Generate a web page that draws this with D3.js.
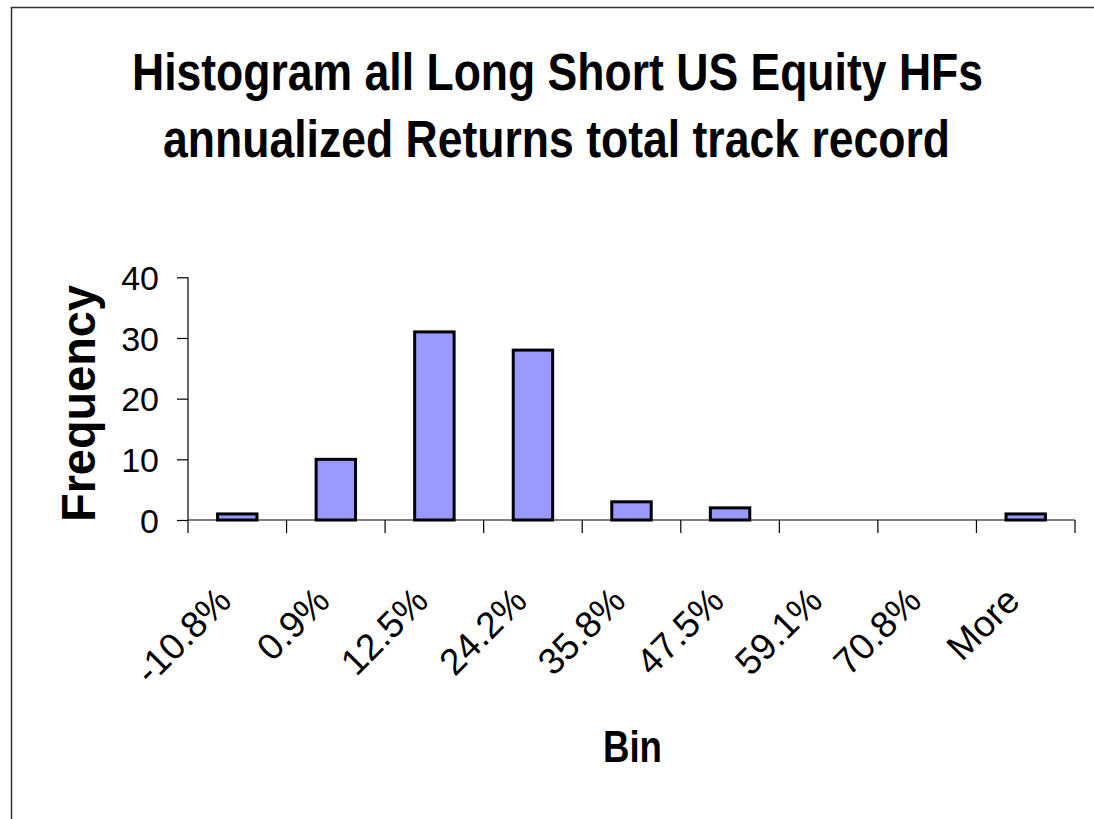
<!DOCTYPE html>
<html><head><meta charset="utf-8">
<script src="https://cdn.jsdelivr.net/npm/d3@7"></script>
<style>body{margin:0;background:#fff;overflow:hidden}svg{display:block;font-family:"Liberation Sans",Arial,sans-serif}</style>
</head><body><svg id="c" width="1094" height="819"></svg>
<script>
const categories = ["-10.8%","0.9%","12.5%","24.2%","35.8%","47.5%","59.1%","70.8%","More"];
const frequency = [1,10,31,28,3,2,0,0,1];
const yTicks = [0,10,20,30,40];
const titleLines = ["Histogram all Long Short US Equity HFs","annualized Returns total track record"];

const svg = d3.select("#c");
svg.append("path").attr("d","M11.5,819V7.5H1094").attr("fill","none")
  .attr("stroke","#333").attr("stroke-width",1.5);

const x0 = 188, x1 = 1075, yBase = 520, yTop = 277.3;
const x = d3.scaleBand().domain(categories).range([x0,x1]).paddingInner(0.6).paddingOuter(0.3);
const xb = d3.scaleBand().domain(categories).range([x0,x1]).padding(0);
const y = d3.scaleLinear().domain([0,40]).range([yBase,yTop]);

// bars
svg.append("g").selectAll("rect").data(categories).join("rect")
  .attr("x",d=>x(d)).attr("width",x.bandwidth())
  .attr("y",(d,i)=>y(frequency[i])).attr("height",(d,i)=>yBase-y(frequency[i]))
  .attr("fill","#9999ff").attr("stroke","#000").attr("stroke-width",3)
  .attr("display",(d,i)=>frequency[i]>0?null:"none");

// y axis
const ya = svg.append("g").attr("transform",`translate(${x0},0)`)
  .call(d3.axisLeft(y).tickValues(yTicks).tickSize(11).tickPadding(18).tickFormat(d3.format("d")));
ya.select(".domain").attr("stroke","#000").attr("stroke-width",1.2).attr("d",`M0,${yTop}V${yBase}`);
ya.selectAll(".tick line").attr("stroke","#000").attr("stroke-width",1.2);
ya.selectAll(".tick text").attr("font-size",34).attr("fill","#000").attr("font-family","Liberation Sans, Arial").attr("dy","0.36em");

// x axis
const xa = svg.append("g").attr("transform",`translate(0,${yBase})`);
xa.append("line").attr("x1",x0).attr("x2",x1).attr("stroke","#000").attr("stroke-width",1.2);
const bounds = categories.map(d=>xb(d)).concat([x1]);
xa.selectAll("line.t").data(bounds).join("line").attr("class","t")
  .attr("x1",d=>d).attr("x2",d=>d).attr("y1",0).attr("y2",13).attr("stroke","#000").attr("stroke-width",1.2);
xa.selectAll("text").data(categories).join("text")
  .attr("transform",d=>`translate(${xb(d)+xb.bandwidth()/2-4},${83}) rotate(-45)`)
  .attr("text-anchor","end").attr("font-size",37).attr("fill","#000").text(d=>d);

// title
svg.append("g").selectAll("text").data(titleLines).join("text")
  .attr("x",(d,i)=>i?556.5:557.5).attr("y",(d,i)=>i?157:90)
  .attr("text-anchor","middle").attr("font-weight","bold").attr("font-size",51)
  .attr("textLength",(d,i)=>i?787:851).attr("lengthAdjust","spacingAndGlyphs").text(d=>d);

// axis titles
svg.append("text").attr("transform","translate(95,403.5) rotate(-90)")
  .attr("text-anchor","middle").attr("font-weight","bold").attr("font-size",49)
  .attr("textLength",237).attr("lengthAdjust","spacingAndGlyphs").text("Frequency");
svg.append("text").attr("x",632.5).attr("y",762)
  .attr("text-anchor","middle").attr("font-weight","bold").attr("font-size",44.7)
  .attr("textLength",59).attr("lengthAdjust","spacingAndGlyphs").text("Bin");
</script></body></html>
